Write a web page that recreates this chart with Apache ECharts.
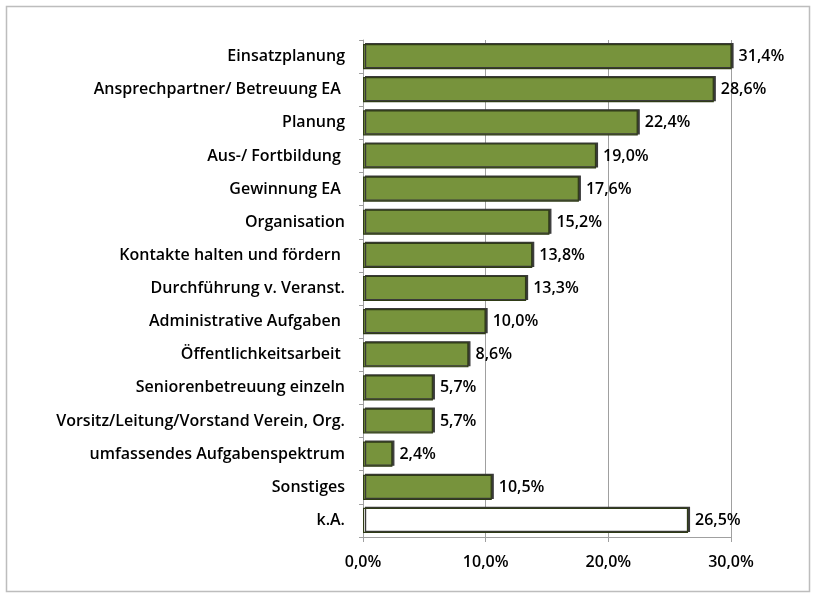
<!DOCTYPE html>
<html><head><meta charset="utf-8">
<script src="https://cdn.jsdelivr.net/npm/echarts@6/dist/echarts.min.js"></script>
<style>html,body{margin:0;padding:0;background:#fff}#c{width:816px;height:598px}</style>
</head><body><div id="c"></div>
<script>
const categories = ["Einsatzplanung","Ansprechpartner/ Betreuung EA ","Planung","Aus-/ Fortbildung ","Gewinnung EA ","Organisation","Kontakte halten und fördern ","Durchführung v. Veranst.","Administrative Aufgaben ","Öffentlichkeitsarbeit ","Seniorenbetreuung einzeln","Vorsitz/Leitung/Vorstand Verein, Org.","umfassendes Aufgabenspektrum","Sonstiges","k.A."];
const values = [31.4,28.6,22.4,19.0,17.6,15.2,13.8,13.3,10.0,8.6,5.7,5.7,2.4,10.5,26.5];
const xTicks = [0,10,20,30];
const fnt = "'Open Sans', sans-serif";
const chart = echarts.init(document.getElementById('c'));
chart.setOption({
  animation:false,
  graphic:[{type:'rect',shape:{x:6.5,y:6.5,width:803,height:585},style:{fill:'none',stroke:'#bdbdbd',lineWidth:1.5}}],
  grid:{left:363,right:85,top:40,bottom:61},
  xAxis:{type:'value',min:xTicks[0],max:xTicks[xTicks.length-1],interval:10,
    axisLine:{show:true,lineStyle:{color:'#a0a0a0'}},
    axisTick:{show:true,length:5,lineStyle:{color:'#a0a0a0'}},
    splitLine:{lineStyle:{color:'#a0a0a0'}},
    axisLabel:{formatter:v=>v.toFixed(1).replace('.',',')+'%',color:'#000',fontSize:16,fontWeight:600,fontFamily:fnt,margin:17}},
  yAxis:{type:'category',data:categories,inverse:true,
    axisLine:{show:true,lineStyle:{color:'#a0a0a0'}},
    axisTick:{show:true,length:4,lineStyle:{color:'#a0a0a0'}},
    axisLabel:{color:'#000',fontSize:16,fontWeight:600,fontFamily:fnt,margin:18}},
  series:[{type:'bar',barCategoryGap:'24%',
    data:values.map((v,i)=>({value:v,itemStyle:i===values.length-1?{color:'#ffffff'}:{}})),
    itemStyle:{color:'#77933C',borderColor:'#2f3b16',borderWidth:1.2,shadowColor:'#3a3a3a',shadowOffsetX:2,shadowOffsetY:-1,shadowBlur:0},
    label:{show:true,position:'right',distance:7,color:'#000',fontSize:16,fontWeight:600,fontFamily:fnt,
      formatter:p=>p.value.toFixed(1).replace('.',',')+'%'}}]
});
</script></body></html>
